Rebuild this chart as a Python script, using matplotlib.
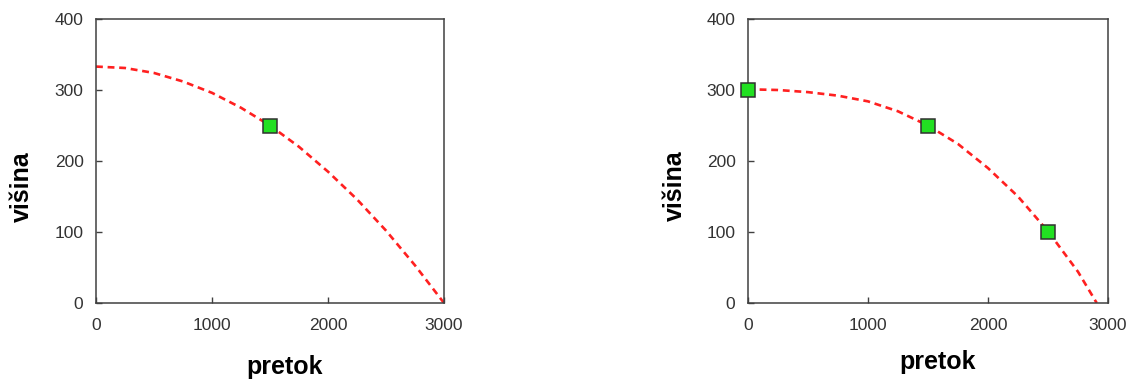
import matplotlib.pyplot as plt

plt.rcParams['font.family'] = ['Liberation Sans', 'DejaVu Sans']

# left panel: one measured point and the curve through it
q_left = [0, 250, 500, 750, 1000, 1250, 1500, 1750, 2000, 2250, 2500, 2750, 3000]
h_left = [333, 331, 324, 312, 296, 275, 250, 220, 185, 146, 102, 53, 0]
pts_left_q = [1500]
pts_left_h = [250]

# right panel: three measured points and the curve through them
q_right = [0, 250, 500, 750, 1000, 1250, 1500, 1750, 2000, 2250, 2500, 2750, 2906]
h_right = [301, 300, 297, 292, 284, 270, 250, 224, 190, 150, 101, 44, 0]
pts_right_q = [0, 1500, 2500]
pts_right_h = [300, 250, 100]

x_ticks = [0, 1000, 2000, 3000]
y_ticks = [0, 100, 200, 300, 400]

W, H = 1130, 380
fig = plt.figure(figsize=(W / 100, H / 100), dpi=100)

def panel(rect, q, h, pq, ph):
    ax = fig.add_axes(rect)
    ax.plot(q, h, color='#ff2020', lw=1.9, dashes=(2.6, 1.8))
    ax.plot(pq, ph, ls='none', marker='s', ms=9.5, mfc='#22e022',
            mec='#303030', mew=1.1, clip_on=False, zorder=5)
    ax.set_xlim(0, 3000)
    ax.set_ylim(0, 400)
    ax.set_xticks(x_ticks)
    ax.set_yticks(y_ticks)
    for s in ax.spines.values():
        s.set_color('#404040')
        s.set_linewidth(1.1)
    ax.tick_params(axis='both', direction='in', length=4, width=1.0,
                   color='#404040', labelsize=12.5, labelcolor='#333333')
    ax.tick_params(axis='x', pad=11)
    ax.tick_params(axis='y', pad=9)
    return ax

panel([96 / W, 77 / H, 348 / W, 284 / H], q_left, h_left, pts_left_q, pts_left_h)
panel([748 / W, 77 / H, 360 / W, 284 / H], q_right, h_right, pts_right_q, pts_right_h)

lab = dict(fontsize=18, fontweight='bold', color='black')
fig.text(285 / W, 1 - 367 / H, 'pretok', ha='center', va='center', **lab)
fig.text(938 / W, 1 - 362 / H, 'pretok', ha='center', va='center', **lab)
fig.text(22 / W, 1 - 187 / H, 'višina', ha='center', va='center', rotation=90, **lab)
fig.text(675 / W, 1 - 186 / H, 'višina', ha='center', va='center', rotation=90, **lab)

plt.savefig('out.png', dpi=100)
plt.close()
